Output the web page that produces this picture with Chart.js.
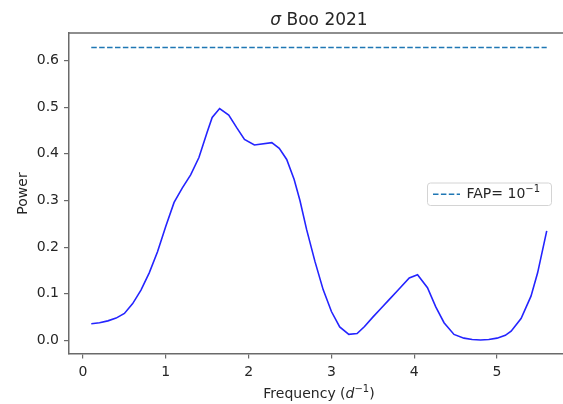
<!DOCTYPE html>
<html>
<head>
<meta charset="utf-8">
<script src="https://cdn.jsdelivr.net/npm/chart.js@4.4.1/dist/chart.umd.min.js"></script>
<style>
  html, body { margin: 0; padding: 0; background: #fff; overflow: hidden; }
  #wrap { width: 575px; height: 404px; }
</style>
</head>
<body>
<div id="wrap"><canvas id="c" width="575" height="404"></canvas></div>
<script>
// Lomb-Scargle periodogram of sigma Boo (2021 season)
const freq = [0.10, 0.20, 0.30, 0.40, 0.50, 0.60, 0.70, 0.80, 0.90, 1.00,
              1.10, 1.20, 1.30, 1.40, 1.50, 1.56, 1.65, 1.76, 1.86, 1.95,
              2.07, 2.28, 2.37, 2.46, 2.55, 2.62, 2.70, 2.80, 2.90, 3.00,
              3.10, 3.21, 3.31, 3.40, 3.50, 3.60, 3.70, 3.80, 3.94, 4.04,
              4.16, 4.26, 4.36, 4.48, 4.60, 4.70, 4.80, 4.90, 5.00, 5.10,
              5.17, 5.29, 5.41, 5.49, 5.60];
const power = [0.036, 0.038, 0.042, 0.048, 0.058, 0.079, 0.108, 0.145, 0.190, 0.245,
               0.296, 0.327, 0.355, 0.392, 0.447, 0.478, 0.497, 0.483, 0.455, 0.431,
               0.419, 0.424, 0.412, 0.388, 0.345, 0.300, 0.238, 0.170, 0.109, 0.062,
               0.029, 0.013, 0.015, 0.030, 0.050, 0.069, 0.088, 0.107, 0.134, 0.141,
               0.113, 0.072, 0.038, 0.013, 0.005, 0.002, 0.001, 0.002, 0.005, 0.011,
               0.020, 0.047, 0.095, 0.145, 0.235];

// False-alarm-probability level (FAP = 0.1)
const fapFreq = [0.10, 5.60];
const fapLevel = 0.628;

const xTicks = [0, 1, 2, 3, 4, 5];
const yTicks = [0.0, 0.1, 0.2, 0.3, 0.4, 0.5, 0.6];

const FONT = '"DejaVu Sans", sans-serif';
const TEXT = '#262626';
const SPINE = '#6a6a6a';

// Draws a sequence of differently styled text runs centred on cx
function drawRuns(ctx, runs, cx, baseline, align) {
  let total = 0;
  runs.forEach(r => { ctx.font = r.font; r.w = ctx.measureText(r.text).width; total += r.w; });
  let x = align === 'left' ? cx : cx - total / 2;
  ctx.textBaseline = 'alphabetic';
  ctx.textAlign = 'left';
  runs.forEach(r => {
    ctx.font = r.font;
    ctx.fillText(r.text, x, baseline + (r.dy || 0));
    x += r.w;
  });
  return total;
}

const decor = {
  id: 'decor',
  afterDraw(chart) {
    const { ctx, chartArea: a } = chart;
    ctx.save();

    // top and right frame lines
    ctx.strokeStyle = SPINE;
    ctx.lineWidth = 1.5;
    ctx.beginPath();
    ctx.moveTo(a.left, a.top);
    ctx.lineTo(a.right, a.top);
    ctx.lineTo(a.right, a.bottom);
    ctx.stroke();

    ctx.fillStyle = TEXT;
    const cx = (a.left + a.right) / 2;

    // title
    drawRuns(ctx, [
      { text: 'σ', font: 'italic 17px ' + FONT },
      { text: ' Boo 2021', font: '17px ' + FONT }
    ], cx, 25);

    // x axis label
    drawRuns(ctx, [
      { text: 'Frequency (', font: '14px ' + FONT },
      { text: 'd', font: 'italic 14px ' + FONT },
      { text: '−1', font: '10px ' + FONT, dy: -6 },
      { text: ')', font: '14px ' + FONT }
    ], cx, 398);

    // y axis label
    ctx.save();
    ctx.translate(27, (a.top + a.bottom) / 2);
    ctx.rotate(-Math.PI / 2);
    ctx.font = '14px ' + FONT;
    ctx.textAlign = 'center';
    ctx.textBaseline = 'alphabetic';
    ctx.fillText('Power', 0, 0);
    ctx.restore();

    // legend box
    const bx = a.right - 142, by = 183, bw = 124, bh = 22.5, r = 3;
    ctx.beginPath();
    ctx.moveTo(bx + r, by);
    ctx.lineTo(bx + bw - r, by);
    ctx.arcTo(bx + bw, by, bx + bw, by + r, r);
    ctx.lineTo(bx + bw, by + bh - r);
    ctx.arcTo(bx + bw, by + bh, bx + bw - r, by + bh, r);
    ctx.lineTo(bx + r, by + bh);
    ctx.arcTo(bx, by + bh, bx, by + bh - r, r);
    ctx.lineTo(bx, by + r);
    ctx.arcTo(bx, by, bx + r, by, r);
    ctx.closePath();
    ctx.fillStyle = 'rgba(255,255,255,0.8)';
    ctx.fill();
    ctx.strokeStyle = '#d4d4d4';
    ctx.lineWidth = 1;
    ctx.stroke();

    // legend sample
    ctx.strokeStyle = '#1f77b4';
    ctx.lineWidth = 1.5;
    ctx.setLineDash([5.5, 2.4]);
    ctx.beginPath();
    ctx.moveTo(bx + 5.5, by + bh / 2);
    ctx.lineTo(bx + 32.5, by + bh / 2);
    ctx.stroke();
    ctx.setLineDash([]);

    // legend text
    ctx.fillStyle = TEXT;
    drawRuns(ctx, [
      { text: 'FAP= 10', font: '14px ' + FONT },
      { text: '−1', font: '10px ' + FONT, dy: -6 }
    ], bx + 39, by + 15, 'left');

    ctx.restore();
  }
};

const xy = (xs, ys) => xs.map((x, i) => ({ x: x, y: ys[i] }));

new Chart(document.getElementById('c'), {
  type: 'line',
  data: {
    datasets: [
      {
        label: 'Power',
        data: xy(freq, power),
        borderColor: '#2424ff',
        borderWidth: 1.6,
        pointRadius: 0,
        tension: 0,
        fill: false
      },
      {
        label: 'FAP= 10^-1',
        data: xy(fapFreq, fapFreq.map(() => fapLevel)),
        borderColor: '#1f77b4',
        borderWidth: 1.5,
        borderDash: [5.5, 2.4],
        pointRadius: 0,
        tension: 0,
        fill: false
      }
    ]
  },
  options: {
    responsive: false,
    animation: false,
    devicePixelRatio: 1,
    layout: { padding: { left: 0, top: 33, right: 5.5, bottom: 0 } },
    plugins: {
      legend: { display: false },
      title: { display: false },
      tooltip: { enabled: false }
    },
    scales: {
      x: {
        type: 'linear',
        min: -0.175,
        max: 5.875,
        afterFit: s => { s.height = 50; },
        afterBuildTicks: s => { s.ticks = xTicks.map(v => ({ value: v })); },
        border: { display: true, color: SPINE, width: 1.5 },
        grid: { display: true, drawOnChartArea: false, drawTicks: true, tickLength: 4.5, color: SPINE, lineWidth: 1.2 },
        ticks: {
          padding: 5,
          color: TEXT,
          font: { family: FONT, size: 14 },
          maxRotation: 0,
          callback: v => String(v)
        }
      },
      y: {
        type: 'linear',
        min: -0.029,
        max: 0.659,
        afterFit: s => { s.width = 68.5; },
        afterBuildTicks: s => { s.ticks = yTicks.map(v => ({ value: v })); },
        border: { display: true, color: SPINE, width: 1.5 },
        grid: { display: true, drawOnChartArea: false, drawTicks: true, tickLength: 4.5, color: SPINE, lineWidth: 1.2 },
        ticks: {
          padding: 5,
          color: TEXT,
          font: { family: FONT, size: 14 },
          callback: v => v.toFixed(1)
        }
      }
    }
  },
  plugins: [decor]
});
</script>
</body>
</html>
